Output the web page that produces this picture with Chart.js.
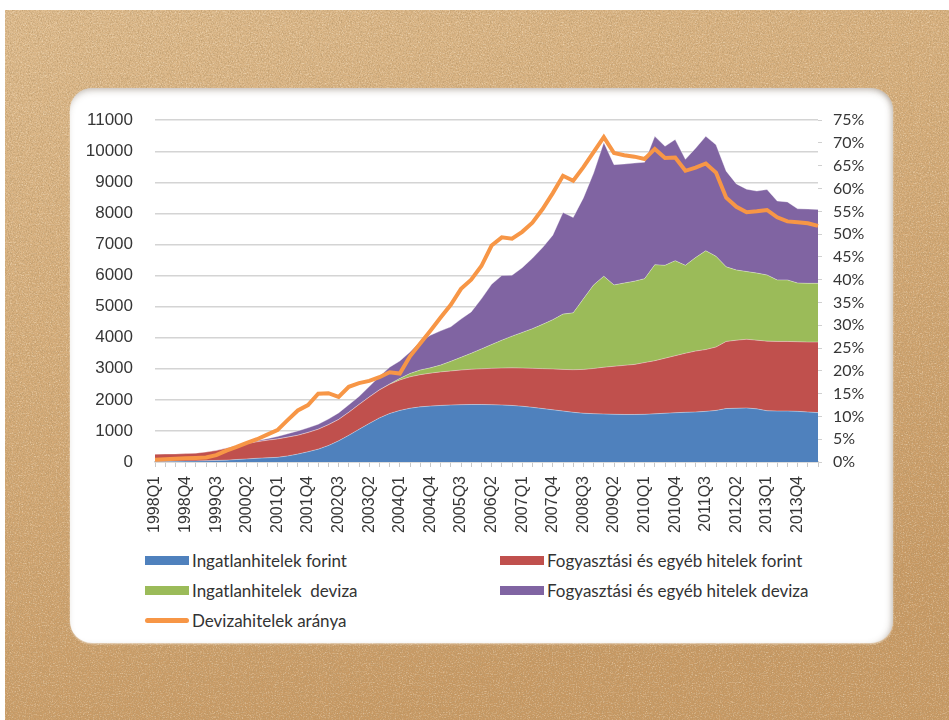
<!DOCTYPE html>
<html>
<head>
<meta charset="utf-8">
<script src="https://cdn.jsdelivr.net/npm/chart.js@4.4.0/dist/chart.umd.min.js"></script>
<style>
  html, body { margin: 0; padding: 0; background: #fff; }
  body { width: 949px; height: 720px; position: relative; overflow: hidden; }
  .kraft { position: absolute; left: 5px; top: 10px; }
  .panel {
    position: absolute; left: 70px; top: 88px; width: 823px; height: 555px;
    background: #fff; border-radius: 22px;
    box-shadow: inset 0 5px 7px -3px rgba(90, 70, 50, 0.35),
                inset -5px 0 7px -4px rgba(90, 70, 50, 0.35),
                0 1px 2px rgba(255, 255, 255, 0.6);
  }
  .chart-box { position: absolute; left: 70px; top: 88px; width: 823px; height: 457px; }
  .legend {
    position: absolute; left: 145px; top: 545px;
    display: grid; grid-template-columns: 355px auto;
    font-family: Lato, 'Open Sans', sans-serif; font-size: 17px; color: #333;
  }
  .legend .item { display: flex; align-items: center; height: 30px; white-space: pre; }
  .legend .swatch { width: 44px; height: 9px; margin-right: 3px; }
  .legend .swatch.line { height: 5px; border-radius: 3px; }
</style>
</head>
<body>
<!-- kraft paper backdrop -->
<svg class="kraft" width="944" height="710" xmlns="http://www.w3.org/2000/svg">
  <defs>
    <linearGradient id="tan" x1="0" y1="0" x2="0.35" y2="1">
      <stop offset="0" stop-color="#dfbc8e"/>
      <stop offset="0.45" stop-color="#d6ad7a"/>
      <stop offset="1" stop-color="#c89963"/>
    </linearGradient>
    <filter id="grain" x="0" y="0" width="100%" height="100%">
      <feTurbulence type="fractalNoise" baseFrequency="0.9 0.6" numOctaves="3" seed="7"/>
      <feColorMatrix values="0 0 0 0 0.45  0 0 0 0 0.29  0 0 0 0 0.13  1.5 0 0 0 -0.6"/>
    </filter>
    <filter id="fleck" x="0" y="0" width="100%" height="100%">
      <feTurbulence type="fractalNoise" baseFrequency="0.7 0.9" numOctaves="2" seed="3"/>
      <feColorMatrix values="0 0 0 0 0.97  0 0 0 0 0.88  0 0 0 0 0.72  0 1.2 0 0 -0.58"/>
    </filter>
  </defs>
  <rect width="944" height="710" fill="url(#tan)"/>
  <rect width="944" height="710" filter="url(#fleck)"/>
  <rect width="944" height="710" filter="url(#grain)"/>
</svg>
<div class="panel"></div>
<div class="chart-box"><canvas id="hitelek"></canvas></div>
<div class="legend" id="legend"></div>

<script>
var quarters = [
    '1998Q1', '1998Q2', '1998Q3', '1998Q4', '1999Q1', '1999Q2', '1999Q3', '1999Q4',
    '2000Q1', '2000Q2', '2000Q3', '2000Q4', '2001Q1', '2001Q2', '2001Q3', '2001Q4',
    '2002Q1', '2002Q2', '2002Q3', '2002Q4', '2003Q1', '2003Q2', '2003Q3', '2003Q4',
    '2004Q1', '2004Q2', '2004Q3', '2004Q4', '2005Q1', '2005Q2', '2005Q3', '2005Q4',
    '2006Q1', '2006Q2', '2006Q3', '2006Q4', '2007Q1', '2007Q2', '2007Q3', '2007Q4',
    '2008Q1', '2008Q2', '2008Q3', '2008Q4', '2009Q1', '2009Q2', '2009Q3', '2009Q4',
    '2010Q1', '2010Q2', '2010Q3', '2010Q4', '2011Q1', '2011Q2', '2011Q3', '2011Q4',
    '2012Q1', '2012Q2', '2012Q3', '2012Q4', '2013Q1', '2013Q2', '2013Q3', '2013Q4',
    '2014Q1', '2014Q2'
];

// mrd Ft
var ingatlanForint = [
    20, 20, 25, 30, 35, 40, 50, 60, 80, 100,
    120, 135, 150, 195, 255, 330, 414, 530, 680, 860,
    1050, 1240, 1420, 1560, 1660, 1730, 1775, 1800, 1820, 1835,
    1845, 1850, 1850, 1845, 1835, 1820, 1795, 1760, 1720, 1680,
    1640, 1600, 1570, 1555, 1545, 1535, 1530, 1530, 1535, 1550,
    1570, 1585, 1600, 1610, 1630, 1660, 1720, 1730, 1740, 1710,
    1650, 1640, 1640, 1630, 1610, 1590
];
var fogyasztasiForint = [
    230, 235, 235, 240, 250, 280, 320, 380, 440, 490,
    530, 565, 590, 605, 605, 620, 640, 670, 690, 740,
    800, 850, 900, 940, 980, 1010, 1035, 1060, 1080, 1095,
    1115, 1135, 1150, 1170, 1190, 1210, 1230, 1255, 1285, 1315,
    1340, 1370, 1410, 1455, 1505, 1545, 1580, 1610, 1665, 1710,
    1770, 1835, 1900, 1960, 1990, 2040, 2160, 2190, 2210, 2210,
    2240, 2240, 2240, 2240, 2250, 2270
];
var ingatlanDeviza = [
    0, 0, 0, 0, 0, 0, 0, 0, 0, 0,
    0, 0, 0, 0, 0, 0, 0, 0, 0, 0,
    0, 0, 0, 10, 50, 110, 150, 170, 220, 310,
    410, 515, 640, 765, 895, 1020, 1145, 1275, 1425, 1585,
    1780, 1830, 2270, 2690, 2930, 2620, 2650, 2680, 2700, 3090,
    2990, 3060, 2830, 3010, 3180, 2920, 2400, 2260, 2180, 2160,
    2130, 1980, 1980, 1890, 1890, 1890
];
var fogyasztasiDeviza = [
    0, 0, 0, 0, 0, 0, 5, 10, 15, 20,
    30, 50, 80, 110, 140, 150, 160, 180, 210, 240,
    260, 340, 430, 540, 560, 690, 920, 1050, 1100, 1110,
    1230, 1330, 1610, 1940, 2080, 1960, 2080, 2270, 2470, 2720,
    3270, 3070, 3250, 3600, 4300, 3870, 3830, 3800, 3750, 4130,
    3830, 3900, 3410, 3520, 3680, 3590, 3080, 2770, 2650, 2640,
    2750, 2540, 2510, 2390, 2390, 2380
];
// %
var devizaArany = [
    0.5, 0.6, 0.7, 0.8, 0.9, 1.0, 1.5, 2.5, 3.3, 4.2,
    5.0, 6.0, 7.0, 9.2, 11.3, 12.5, 15.0, 15.1, 14.3, 16.5,
    17.3, 17.8, 18.6, 19.7, 19.4, 23.2, 26.0, 28.8, 31.7, 34.5,
    38.0, 40.0, 43.0, 47.5, 49.3, 49.0, 50.5, 52.5, 55.5, 59.0,
    62.8, 61.7, 64.7, 68.0, 71.3, 67.8, 67.3, 67.0, 66.5, 68.7,
    66.7, 66.8, 63.9, 64.6, 65.5, 63.5, 58.0, 56.0, 54.8, 55.0,
    55.3, 53.7, 52.8, 52.6, 52.4, 51.8
];

var labelEvery = 3;
var axisFont = "'Liberation Sans', Arial, sans-serif";
var tickColor = '#363636';

function area(label, color, data, fill) {
    return {
        type: 'line',
        label: label,
        data: data,
        backgroundColor: color,
        borderColor: 'rgba(255,255,255,0.35)',
        borderWidth: 1,
        fill: fill,
        pointRadius: 0,
        tension: 0,
        yAxisID: 'y',
        order: 1
    };
}

var datasets = [
    area('Ingatlanhitelek forint', '#4F81BD', ingatlanForint, 'origin'),
    area('Fogyasztási és egyéb hitelek forint', '#C0504D', fogyasztasiForint, '-1'),
    area('Ingatlanhitelek  deviza', '#9BBB59', ingatlanDeviza, '-1'),
    area('Fogyasztási és egyéb hitelek deviza', '#8064A2', fogyasztasiDeviza, '-1'),
    {
        type: 'line',
        label: 'Devizahitelek aránya',
        data: devizaArany,
        borderColor: '#F79646',
        backgroundColor: '#F79646',
        borderWidth: 4,
        fill: false,
        pointRadius: 0,
        tension: 0,
        yAxisID: 'y1',
        order: 0
    }
];

var chart = new Chart(document.getElementById('hitelek'), {
    type: 'line',
    data: { labels: quarters, datasets: datasets },
    options: {
        responsive: true,
        maintainAspectRatio: false,
        animation: false,
        layout: { padding: { top: 29, left: 0, right: 0, bottom: 0 } },
        plugins: {
            legend: { display: false },
            tooltip: { enabled: false }
        },
        scales: {
            x: {
                offset: false,
                grid: { drawOnChartArea: false, drawTicks: true, tickLength: 5, color: '#c8c8c8' },
                border: { display: true, color: '#d0d0d0', width: 1.5 },
                ticks: {
                    autoSkip: false,
                    minRotation: 90,
                    maxRotation: 90,
                    padding: 9,
                    color: tickColor,
                    font: { family: axisFont, size: 16 },
                    callback: function (value, index) {
                        return index % labelEvery === 0 ? quarters[index] : '';
                    }
                },
                afterFit: function (scale) { scale.height = 83; }
            },
            y: {
                stacked: true,
                min: 0,
                max: 11000,
                grid: { color: '#d4d4d4', lineWidth: 1.5, drawTicks: false },
                border: { display: false },
                ticks: {
                    stepSize: 1000,
                    padding: 22,
                    color: tickColor,
                    font: { family: axisFont, size: 17 },
                    callback: function (value) { return String(value); }
                },
                afterFit: function (scale) { scale.width = 85; }
            },
            y1: {
                position: 'right',
                min: 0,
                max: 75,
                grid: { drawOnChartArea: false, drawTicks: true, tickLength: 4, color: '#d0d0d0' },
                border: { display: false },
                ticks: {
                    stepSize: 5,
                    padding: 11,
                    color: tickColor,
                    font: { family: "Lato, 'Open Sans', sans-serif", size: 16 },
                    callback: function (value) { return value + '%'; }
                },
                afterFit: function (scale) { scale.width = 75; }
            }
        }
    }
});

// legend in two columns, built from the datasets
var legend = document.getElementById('legend');
chart.data.datasets.forEach(function (ds) {
    var item = document.createElement('div');
    item.className = 'item';
    var sw = document.createElement('span');
    sw.className = ds.fill === false ? 'swatch line' : 'swatch';
    sw.style.background = ds.fill === false ? ds.borderColor : ds.backgroundColor;
    item.appendChild(sw);
    item.appendChild(document.createTextNode(ds.label));
    legend.appendChild(item);
});
</script>
</body>
</html>
